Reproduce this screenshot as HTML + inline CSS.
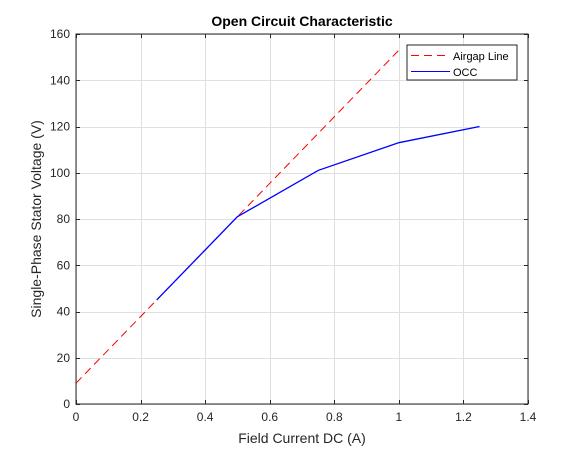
<!DOCTYPE html>
<html><head><meta charset="utf-8"><style>
body{margin:0;background:#fff;}
svg text{font-family:"Liberation Sans",sans-serif;}
</style></head><body>
<svg id="chart" width="584" height="455" xmlns="http://www.w3.org/2000/svg">
<rect width="584" height="455" fill="#fff"/>
<g id="grid"></g>
<g id="ticks"></g>
<g id="series"></g>
<rect x="76" y="34" width="452" height="370" fill="none" stroke="#262626" stroke-width="1"/>
<text x="302" y="26" text-anchor="middle" font-size="14" font-weight="bold" fill="#000">Open Circuit Characteristic</text>
<text x="302" y="443" text-anchor="middle" font-size="14" fill="#262626">Field Current DC (A)</text>
<text transform="translate(41,219) rotate(-90)" text-anchor="middle" font-size="14" fill="#262626">Single-Phase Stator Voltage (V)</text>
<g>
<rect x="407" y="45" width="110" height="35" fill="#fff" stroke="#262626" stroke-width="1"/>
<line x1="411" y1="55.5" x2="450" y2="55.5" stroke="#f00" stroke-dasharray="8,5"/>
<text x="453" y="60" font-size="11" fill="#000">Airgap Line</text>
<line x1="411" y1="71.5" x2="450" y2="71.5" stroke="#00f"/>
<text x="453" y="76" font-size="11" fill="#000">OCC</text>
</g>
</svg>
<script>
const xTicks=[0,0.2,0.4,0.6,0.8,1,1.2,1.4];
const xTickLabels=["0","0.2","0.4","0.6","0.8","1","1.2","1.4"];
const yTicks=[0,20,40,60,80,100,120,140,160];
const yTickLabels=["0","20","40","60","80","100","120","140","160"];
const airgapX=[0,1];
const airgapY=[9,153];
const occX=[0.25,0.5,0.75,1,1.25];
const occY=[45,81,101,113,120];

const L=76,R=528,T=34,B=404;
const sx=v=>L+(v-0)/(1.4-0)*(R-L);
const sy=v=>B-(v-0)/(160-0)*(B-T);
const NS="http://www.w3.org/2000/svg";
function mk(tag,attrs,parent){const e=document.createElementNS(NS,tag);for(const k in attrs)e.setAttribute(k,attrs[k]);parent.appendChild(e);return e;}
const grid=document.getElementById('grid'),ticks=document.getElementById('ticks'),series=document.getElementById('series');
xTicks.forEach((v,i)=>{
  const x=Math.round(sx(v))+0.5;
  const g=mk('line',{x1:x,y1:T,x2:x,y2:B,stroke:'#dfdfdf','stroke-width':1},grid);
  
  
  const t1=mk('line',{x1:x,y1:B,x2:x,y2:B-4,stroke:'#262626'},ticks);
  
  
  const t2=mk('line',{x1:x,y1:T,x2:x,y2:T+4,stroke:'#262626'},ticks);
  
  
  const tx=mk('text',{x:sx(v),y:B+17,'text-anchor':'middle','font-size':12,fill:'#262626'},ticks);
  tx.textContent=xTickLabels[i];
  
  
});
yTicks.forEach((v,i)=>{
  const y=Math.round(sy(v))+0.5;
  const g=mk('line',{x1:L,y1:y,x2:R,y2:y,stroke:'#dfdfdf','stroke-width':1},grid);
  
  
  const t1=mk('line',{x1:L,y1:y,x2:L+4,y2:y,stroke:'#262626'},ticks);
  
  
  const t2=mk('line',{x1:R,y1:y,x2:R-4,y2:y,stroke:'#262626'},ticks);
  
  
  const tx=mk('text',{x:L-6,y:sy(v)+4,'text-anchor':'end','font-size':12,fill:'#262626'},ticks);
  tx.textContent=yTickLabels[i];
  
  
});
const air=mk('polyline',{points:airgapX.map((x,i)=>sx(x)+','+sy(airgapY[i])).join(' '),fill:'none',stroke:'#f00','stroke-width':1,'stroke-dasharray':'8,5'},series);


const occ=mk('polyline',{points:occX.map((x,i)=>sx(x)+','+sy(occY[i])).join(' '),fill:'none',stroke:'#00f','stroke-width':1.3},series);


</script>
</body></html>
